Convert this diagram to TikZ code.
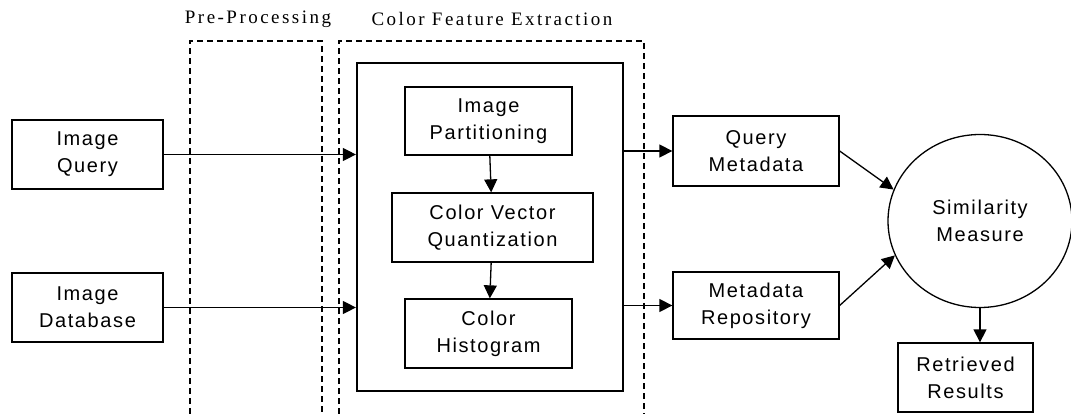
\documentclass[tikz,border=0pt]{standalone}
\usepackage{fontspec}
\setmainfont{Liberation Sans}[LetterSpace=8]
\newfontfamily\titlefont{Liberation Serif}[LetterSpace=13]
\usetikzlibrary{arrows.meta,shapes.geometric}
\begin{document}
\begin{tikzpicture}[x=1pt,y=-1pt,
  box/.style={draw,line width=1.3pt,align=center,inner sep=0pt,
    font=\fontsize{20}{27}\selectfont},
  arr/.style={line width=1.3pt,-{Triangle[length=13pt,width=13pt]}},
  stage/.style={draw,line width=1.3pt,dash pattern=on 6pt off 4pt},
  title/.style={font=\titlefont\fontsize{19}{22}\selectfont}]
\useasboundingbox (0,0) rectangle (1071,414);

% stage frames, open at the bottom
\draw[stage] (190,414) -- (190,41) -- (322,41) -- (322,414);
\draw[stage] (339,414) -- (339,41) -- (644,41) -- (644,414);
\node[title] (tpre) at (258,19) {Pre-Processing};
\node[title] (tcfe) at (492,19) {Color Feature Extraction};

% feature extraction block
\node[draw,line width=2.2pt,minimum width=266pt,minimum height=328pt,inner sep=0pt] (fx) at (490,227) {};
\node[box,minimum width=167pt,minimum height=68pt] (part) at (488.5,121) {Image\\Partitioning};
\node[box,minimum width=201pt,minimum height=69pt] (cvq) at (492.5,227.5) {Color Vector\\Quantization};
\node[box,minimum width=167pt,minimum height=69pt] (hist) at (488.5,333.5) {Color\\Histogram};

% inputs
\node[box,minimum width=151pt,minimum height=69pt] (iq) at (87.5,154.5) {Image\\Query};
\node[box,minimum width=151pt,minimum height=69pt] (idb) at (87.5,307.5) {Image\\Database};

% outputs
\node[box,minimum width=166pt,minimum height=70pt] (qm) at (756,151) {Query\\Metadata};
\node[box,minimum width=166pt,minimum height=67pt] (mr) at (756,305.5) {Metadata\\Repository};
\node[box,ellipse,minimum width=184pt,minimum height=173pt] (sim) at (980,221) {Similarity\\Measure};
\node[box,minimum width=135pt,minimum height=69pt] (res) at (965.5,377.5) {Retrieved\\Results};

% connectors
\coordinate (inq) at (fx.west |- iq.east);
\coordinate (indb) at (fx.west |- idb.east);
\draw[arr] (iq.east) -- (inq);
\draw[arr] (idb.east) -- (indb);
\draw[arr] (part) -- (cvq);
\draw[arr] (cvq) -- (hist);
\draw[arr] (fx.east |- qm.west) -- (qm.west);
\coordinate (outdb) at (fx.east |- mr.west);
\draw[arr] (outdb) -- (mr.west);
\draw[arr] (qm.east) -- (sim.160);
\draw[arr] (mr.east) -- (sim.202);
\draw[arr] (sim.south) -- (sim.south |- res.north);
\end{tikzpicture}
\end{document}
